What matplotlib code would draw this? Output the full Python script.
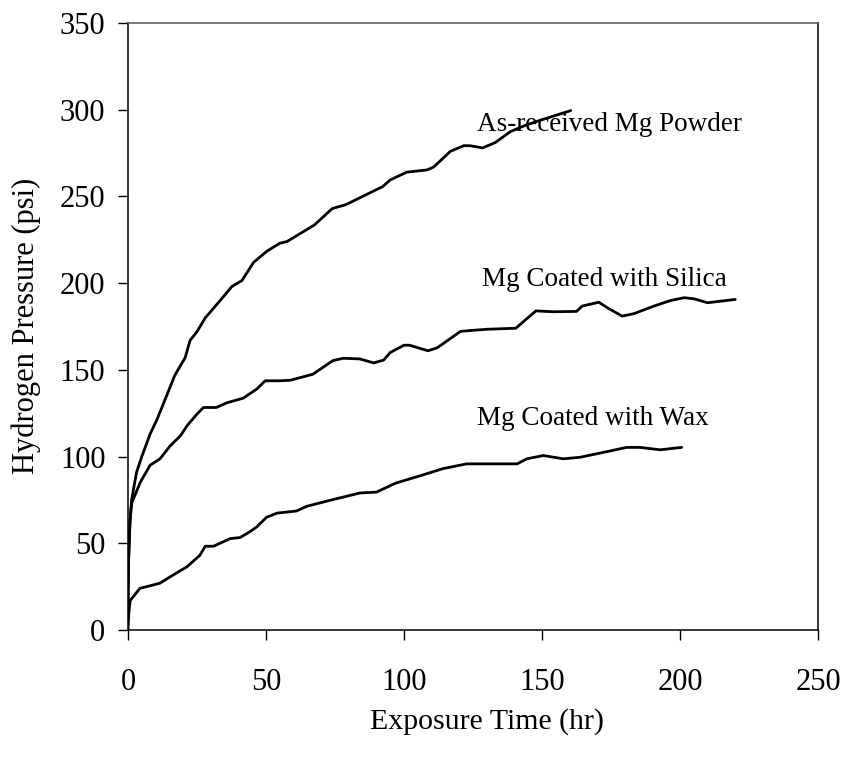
import matplotlib
matplotlib.use("Agg")
import matplotlib.pyplot as plt

plt.rcParams['font.family'] = ['Liberation Serif', 'DejaVu Serif']

# As-received Mg powder
asrec_t = [0, 0.2, 0.7, 1.3, 3.1, 5, 8, 10.4, 12.2, 17, 20.7, 22.5, 25, 28, 33.4, 37.6, 41.3,
           45.5, 50.3, 55, 57.6, 67.5, 74, 79, 85, 92.3, 95, 101, 108.4, 110.8, 116.8, 121.7,
           124, 128.5, 133, 138.6, 144, 149.5, 155.5, 160.4]
asrec_p = [15, 40, 62, 75, 91, 100, 113, 121, 128, 147, 157, 167, 172, 180, 190, 198, 201.5,
           212, 218.4, 223, 224, 233.5, 243, 245.3, 250, 255.7, 259.5, 264, 265.3, 267, 276,
           279.3, 279.2, 278, 281, 287.4, 291, 294, 297, 299.5]

# Mg coated with silica
silica_t = [0, 0.2, 0.7, 1.3, 3.1, 4.4, 8, 11.6, 15.2, 19, 21.5, 25, 27.3, 32, 35.8, 41.8, 46.7,
            49.7, 55, 58.8, 67, 74.2, 78, 84, 89, 92.6, 95, 100, 102, 108.7, 112, 120.5, 125,
            130, 140.5, 147.8, 154, 162.5, 164.6, 170.6, 173.7, 179, 183.3, 190.6, 196.6, 201.5,
            205, 210, 220]
silica_p = [15, 40, 62, 73, 80, 85, 95, 98.7, 106, 112, 118, 124.5, 128.3, 128.3, 131, 133.7, 139,
            143.7, 143.7, 144, 147.5, 155.3, 156.7, 156.3, 154, 155.6, 160, 164.2, 164.2, 161,
            162.7, 172.2, 172.8, 173.4, 174, 184, 183.5, 183.7, 186.8, 189, 185.8, 181, 182.4,
            186.8, 190, 191.6, 191, 188.7, 190.6]

# Mg coated with wax
wax_t = [0, 0.3, 0.8, 4.3, 11.6, 15.2, 21.3, 26, 28, 31, 37, 40.6, 44, 46.6, 50.2, 54, 61, 64.7,
         73, 84, 90, 97, 106, 114, 122.7, 141, 144.5, 150.5, 157.7, 163.8, 171, 180.7, 185.5,
         192.8, 200.6]
wax_p = [0, 10, 17, 24, 27, 30.6, 36.4, 43, 48.3, 48.3, 52.7, 53.3, 56.5, 59.4, 65, 67.4, 68.6,
         71.3, 74.7, 79, 79.5, 84.7, 89, 93, 95.8, 95.8, 98.7, 100.6, 98.7, 99.6, 102, 105.3,
         105.3, 103.9, 105.3]

labels = ["As-received Mg Powder", "Mg Coated with Silica", "Mg Coated with Wax"]
label_pos = [(126.6, 291.4), (128.3, 202.0), (126.5, 121.7)]

x_ticks = [0, 50, 100, 150, 200, 250]
y_ticks = [0, 50, 100, 150, 200, 250, 300, 350]

fig = plt.figure(figsize=(8.5, 7.57), dpi=100)
ax = fig.add_axes([128 / 850, 1 - 630 / 757, (818 - 128) / 850, (630 - 23) / 757])

for t, p in [(asrec_t, asrec_p), (silica_t, silica_p), (wax_t, wax_p)]:
    ax.plot(t, p, color='black', lw=2.0, solid_joinstyle='round', solid_capstyle='round')

for txt, (x, y) in zip(labels, label_pos):
    ax.text(x, y, txt, fontsize=19.5, ha='left', va='center', color='black')

ax.set_xlim(0, 250)
ax.set_ylim(0, 350)
ax.set_xticks(x_ticks)
ax.set_yticks(y_ticks)
ax.tick_params(axis='both', direction='out', length=7.2, width=1, labelsize=22)
ax.tick_params(axis='x', pad=20)
ax.tick_params(axis='y', pad=9)
for s in ax.spines.values():
    s.set_linewidth(1.1)
ax.spines['top'].set_color('#555555')

ax.set_xlabel("Exposure Time (hr)", fontsize=21.5, va='center')
ax.set_ylabel("Hydrogen Pressure (psi)", fontsize=22, va='center')
ax.xaxis.set_label_coords(((375 + 600) / 2 - 128) / 690, -(722 - 630) / 607)
ax.yaxis.set_label_coords(-(128 - 26) / 690, (630 - 326) / 607)

fig.savefig("out.png", dpi=100)
